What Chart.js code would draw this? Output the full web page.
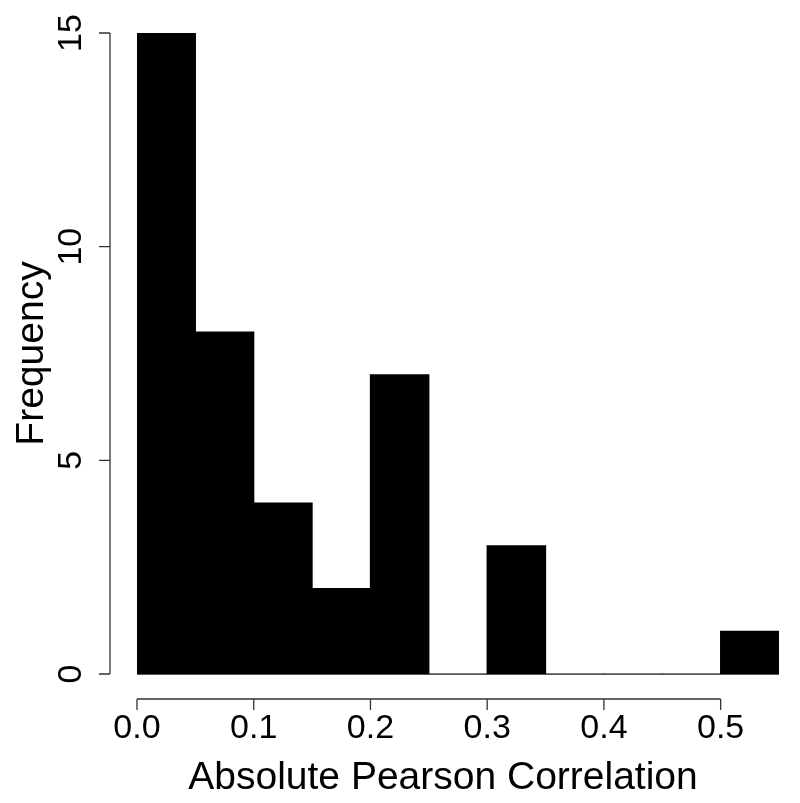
<!DOCTYPE html>
<html>
<head>
<meta charset="utf-8">
<script src="https://cdn.jsdelivr.net/npm/chart.js@4/dist/chart.umd.min.js"></script>
<style>
  html, body { margin: 0; padding: 0; background: #fff; }
  #wrap { width: 800px; height: 803px; }
</style>
</head>
<body>
<div id="wrap"><canvas id="myChart" width="800" height="803"></canvas></div>
<script>
// histogram bins (left edges) and counts
var binStarts = [0.00, 0.05, 0.10, 0.15, 0.20, 0.25, 0.30, 0.35, 0.40, 0.45, 0.50];
var binWidth = 0.05;
var counts = [15, 8, 4, 2, 7, 0, 3, 0, 0, 0, 1];
var xTicks = [0.0, 0.1, 0.2, 0.3, 0.4, 0.5];
var yTicks = [0, 5, 10, 15];
var xTitle = 'Absolute Pearson Correlation';
var yTitle = 'Frequency';

var FONT = '"Liberation Sans", Arial, Helvetica, sans-serif';

// R style axes, drawn from the chart scales
var rAxes = {
    id: 'rAxes',
    beforeDatasetsDraw: function(chart) {
        var ctx = chart.ctx;
        var x = chart.scales.x, y = chart.scales.y;
        // zero-height bar outline along the base
        ctx.save();
        ctx.strokeStyle = '#555';
        ctx.lineWidth = 1;
        ctx.beginPath();
        ctx.moveTo(x.getPixelForValue(binStarts[0]), y.getPixelForValue(0) + 0.5);
        ctx.lineTo(x.getPixelForValue(binStarts[binStarts.length - 1] + binWidth), y.getPixelForValue(0) + 0.5);
        ctx.stroke();
        ctx.restore();
    },
    afterDraw: function(chart) {
        var ctx = chart.ctx;
        var x = chart.scales.x, y = chart.scales.y;
        var axisY = y.getPixelForValue(0) + 25;
        var axisX = x.getPixelForValue(0) - 27;
        ctx.save();
        ctx.strokeStyle = '#333';
        ctx.lineWidth = 1.3;
        ctx.fillStyle = '#000';

        // x axis
        ctx.beginPath();
        ctx.moveTo(x.getPixelForValue(xTicks[0]), axisY);
        ctx.lineTo(x.getPixelForValue(xTicks[xTicks.length - 1]), axisY);
        xTicks.forEach(function(t) {
            var px = x.getPixelForValue(t);
            ctx.moveTo(px, axisY);
            ctx.lineTo(px, axisY + 11);
        });
        ctx.stroke();
        ctx.font = '34px ' + FONT;
        ctx.textAlign = 'center';
        ctx.textBaseline = 'middle';
        xTicks.forEach(function(t) {
            ctx.fillText(t.toFixed(1), x.getPixelForValue(t), axisY + 30);
        });

        // y axis
        ctx.beginPath();
        ctx.moveTo(axisX, y.getPixelForValue(yTicks[0]));
        ctx.lineTo(axisX, y.getPixelForValue(yTicks[yTicks.length - 1]));
        yTicks.forEach(function(t) {
            var py = y.getPixelForValue(t);
            ctx.moveTo(axisX, py);
            ctx.lineTo(axisX - 11, py);
        });
        ctx.stroke();
        yTicks.forEach(function(t) {
            ctx.save();
            ctx.translate(axisX - 38, y.getPixelForValue(t));
            ctx.rotate(-Math.PI / 2);
            ctx.fillText(String(t), 0, 0);
            ctx.restore();
        });

        // titles
        ctx.font = '39px ' + FONT;
        ctx.fillText(xTitle, (x.getPixelForValue(0) + x.getPixelForValue(0.55)) / 2 - 15, axisY + 79);
        ctx.save();
        ctx.translate(32, (y.getPixelForValue(0) + y.getPixelForValue(15)) / 2);
        ctx.rotate(-Math.PI / 2);
        ctx.fillText(yTitle, 0, 0);
        ctx.restore();
        ctx.restore();
    }
};

function generateChart() {
    var ctx = document.getElementById('myChart').getContext('2d');
    var data = binStarts.map(function(b, i) {
        return { x: b + binWidth / 2, y: counts[i] };
    });
    new Chart(ctx, {
        type: 'bar',
        data: {
            datasets: [{
                data: data,
                backgroundColor: '#000',
                borderWidth: 0,
                inflateAmount: 0.6,
                barPercentage: 1,
                categoryPercentage: 1
            }]
        },
        options: {
            responsive: false,
            animation: false,
            layout: { padding: { left: 137, right: 21, top: 33, bottom: 129 } },
            plugins: { legend: { display: false }, tooltip: { enabled: false } },
            scales: {
                x: { type: 'linear', min: 0, max: 0.55, offset: false, display: false },
                y: { min: 0, max: 15, display: false }
            }
        },
        plugins: [rAxes]
    });
}
document.addEventListener('DOMContentLoaded', generateChart);
</script>
</body>
</html>
